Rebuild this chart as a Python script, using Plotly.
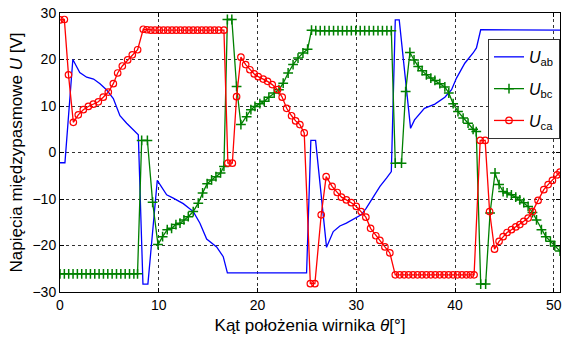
import plotly.graph_objects as go

# ---- data ----
AB_X = [0.00, 0.50, 1.30, 2.00, 2.70, 3.40, 4.05, 4.70, 5.40, 6.07, 6.75, 7.40, 7.93,
        8.40, 8.90, 9.85, 10.80, 11.47, 12.48, 13.50, 14.17, 14.85, 15.86, 16.53, 16.95,
        24.97, 25.40, 25.88, 26.99, 27.67, 28.34, 29.00, 29.70, 30.50, 31.00, 31.70,
        32.40, 33.06, 33.55, 33.95, 34.35, 35.50, 35.90, 36.90, 37.96, 38.97, 39.65,
        40.15, 40.99, 41.83, 42.17, 42.60, 50.63]
AB_Y = [-2.2, -2.2, 20.0, 17.2, 16.2, 15.8, 14.8, 13.5, 11.6, 7.9, 6.3, 5.0, 3.8,
        -28.3, -28.3, -6.0, -9.1, -9.8, -11.0, -12.7, -15.2, -18.6, -20.3, -22.4, -25.9,
        -25.9, 2.6, 2.6, -20.4, -17.0, -15.8, -15.2, -14.3, -13.4, -12.0, -9.5,
        -7.3, -5.5, -4.1, 28.5, 28.5, 5.2, 7.0, 9.5, 10.4, 11.9, 13.5,
        16.0, 19.2, 21.4, 22.5, 26.4, 26.3]

BC_X = [0.00, 0.44, 0.88, 1.32, 1.76, 2.20, 2.64, 3.08, 3.52, 3.96, 4.40, 4.84, 5.28,
        5.72, 6.16, 6.60, 7.04, 7.48, 7.85,
        8.27, 8.85, 9.38, 9.92, 10.39, 10.86, 11.30, 11.74, 12.15, 12.55, 12.99, 13.49,
        14.00, 14.44, 14.90, 15.35, 15.79, 16.26, 16.60,
        16.95, 17.40, 17.88, 18.32, 18.90, 19.33, 19.74, 20.24, 20.68, 21.15, 21.69,
        22.17, 22.60, 23.10, 23.60, 24.10, 24.60, 25.07, 25.47,
        25.90, 26.35, 26.80, 27.25, 27.70, 28.15, 28.60, 29.05, 29.50, 29.95, 30.40,
        30.85, 31.30, 31.75, 32.20, 32.65, 33.10, 33.55,
        33.95, 34.58, 35.00, 35.43, 35.85, 36.27, 36.67, 37.10, 37.55, 37.96, 38.46,
        38.97, 39.37, 39.81, 40.30, 40.82, 41.32, 41.83, 42.15,
        42.60, 43.10, 43.55, 44.05, 44.46, 44.87, 45.27, 45.71, 46.15, 46.56, 46.96,
        47.40, 47.84, 48.25, 48.75, 49.19, 49.66, 50.10, 50.63]
BC_Y = [-26.1, -26.1, -26.1, -26.1, -26.1, -26.1, -26.1, -26.1, -26.1, -26.1, -26.1, -26.1, -26.1,
        -26.1, -26.1, -26.1, -26.1, -26.1, -26.1,
        2.6, 2.6, -10.7, -19.8, -18.1, -16.6, -16.3, -15.5, -15.2, -14.5, -13.8, -12.7,
        -10.9, -8.7, -6.7, -5.9, -5.2, -4.4, -3.0,
        28.6, 28.6, 14.2, 6.0, 7.7, 9.2, 9.9, 10.5, 11.0, 11.9, 12.8,
        13.5, 14.9, 17.1, 18.9, 20.3, 21.4, 22.2, 26.3,
        26.2, 26.2, 26.2, 26.2, 26.2, 26.2, 26.2, 26.2, 26.2, 26.2, 26.2,
        26.2, 26.2, 26.2, 26.2, 26.2, 26.2, 26.2,
        -2.3, -2.3, 13.1, 21.5, 19.9, 18.5, 17.6, 16.7, 16.0, 15.5, 14.8,
        14.1, 12.8, 10.5, 8.8, 7.4, 6.3, 5.0, 4.5,
        -28.3, -28.3, -13.0, -4.4, -6.9, -8.4, -8.7, -9.1, -9.6, -10.2, -10.8,
        -11.6, -12.9, -14.5, -16.6, -18.1, -19.1, -20.1, -21.2]

CA_X = [0.00, 0.44, 0.86, 1.35, 1.85, 2.36, 2.87, 3.37, 3.88, 4.38, 4.89, 5.40, 5.84,
        6.31, 6.85, 7.32, 7.86,
        8.43, 8.80, 9.20, 9.62, 10.05, 10.48, 10.91, 11.34, 11.77, 12.20, 12.63, 13.06,
        13.49, 13.92, 14.35, 14.78, 15.21, 15.64, 16.07, 16.60,
        17.00, 17.45, 17.88, 18.32, 18.80, 19.23, 19.67, 20.07, 20.58, 21.02, 21.49,
        22.03, 22.50, 22.95, 23.45, 23.86, 24.29, 24.73,
        25.35, 25.81, 26.45, 26.95, 27.55, 28.07, 28.50, 29.00, 29.50, 30.00, 30.50,
        30.97, 31.45, 31.98, 32.39, 32.90, 33.40,
        33.95, 34.40, 34.85, 35.30, 35.75, 36.20, 36.65, 37.10, 37.55, 38.00, 38.45,
        38.90, 39.35, 39.80, 40.25, 40.70, 41.15, 41.55, 41.93,
        42.55, 43.05, 43.50, 44.00, 44.46, 44.87, 45.27, 45.71, 46.15, 46.56, 46.96,
        47.40, 47.84, 48.41, 48.99, 49.43, 49.86, 50.33, 50.63]
CA_Y = [28.5, 28.6, 16.7, 6.5, 8.1, 9.2, 9.9, 10.4, 10.9, 11.9, 13.0, 14.8, 17.1,
        18.6, 19.9, 21.0, 22.1,
        26.5, 26.4, 26.3, 26.3, 26.3, 26.3, 26.3, 26.3, 26.3, 26.3, 26.3, 26.3,
        26.3, 26.3, 26.3, 26.3, 26.3, 26.3, 26.3, 26.3,
        -2.3, -2.3, 12.0, 20.5, 18.9, 17.8, 16.9, 16.3, 15.8, 15.3, 14.6,
        13.5, 11.9, 9.5, 7.9, 6.8, 6.0, 4.2,
        -28.2, -28.2, -13.4, -5.2, -7.3, -8.6, -9.6, -10.2, -10.8, -11.6, -12.7,
        -13.9, -16.3, -17.9, -18.9, -20.3, -21.6,
        -26.3, -26.3, -26.3, -26.3, -26.3, -26.3, -26.3, -26.3, -26.3, -26.3, -26.3,
        -26.3, -26.3, -26.3, -26.3, -26.3, -26.3, -26.3, -26.3,
        2.6, 2.6, -12.7, -20.8, -19.1, -18.1, -17.2, -16.6, -16.0, -15.5, -14.8,
        -14.1, -12.7, -10.3, -8.0, -6.9, -6.0, -4.8, -4.2]

X_TICKS = [0, 10, 20, 30, 40, 50]
Y_TICKS = [-30, -20, -10, 0, 10, 20, 30]
X_RANGE = [0, 50.63]
Y_RANGE = [-30, 30]

NAMES = ["<i>U</i><sub>ab</sub>", "<i>U</i><sub>bc</sub>", "<i>U</i><sub>ca</sub>"]
X_TITLE = "Kąt położenia wirnika <i>θ</i>[°]"
Y_TITLE = "Napięcia międzypasmowe <i>U</i> [V]"

FONT = "Arial, 'Liberation Sans', sans-serif"

fig = go.Figure()
fig.add_trace(go.Scatter(x=AB_X, y=AB_Y, mode="lines", name=NAMES[0], legendgroup="a",
                         line=dict(color="#0000FF", width=1.3)))
fig.add_trace(go.Scatter(x=BC_X, y=BC_Y, mode="lines+markers", name=NAMES[1], legendgroup="b",
                         line=dict(color="#008000", width=1.3),
                         marker=dict(symbol="cross-thin", size=7,
                                     line=dict(color="#008000", width=1.5))))
fig.add_trace(go.Scatter(x=CA_X, y=CA_Y, mode="lines+markers", name=NAMES[2], legendgroup="c",
                         line=dict(color="#FF0000", width=1.3),
                         marker=dict(symbol="circle-open", size=6.5, color="#FF0000",
                                     line=dict(color="#FF0000", width=1.2))))

axis_common = dict(showline=True, linecolor="black", linewidth=1, mirror="ticks",
                   ticks="inside", ticklen=4, tickcolor="black",
                   showgrid=True, gridcolor="#333333", griddash="dot", gridwidth=1,
                   zeroline=False, tickfont=dict(family=FONT, size=14, color="black"))

fig.update_xaxes(range=X_RANGE, tickvals=X_TICKS, **axis_common,
                 title=dict(text=X_TITLE, font=dict(family=FONT, size=17, color="black"), standoff=7))
fig.update_yaxes(range=Y_RANGE, tickvals=Y_TICKS, **axis_common,
                 title=dict(text=Y_TITLE, font=dict(family=FONT, size=17, color="black"), standoff=5))

fig.update_layout(
    width=564, height=338,
    margin=dict(l=60, r=4, t=13, b=46, autoexpand=False),
    paper_bgcolor="white", plot_bgcolor="white",
    font=dict(family=FONT, color="black"),
    showlegend=True,
    legend=dict(x=1, xanchor="right", y=0.907, yanchor="top",
                bgcolor="white", bordercolor="#333333", borderwidth=1,
                font=dict(family=FONT, size=16, color="black"),
                traceorder="grouped", tracegroupgap=8),
)

fig.write_html("out.html")
